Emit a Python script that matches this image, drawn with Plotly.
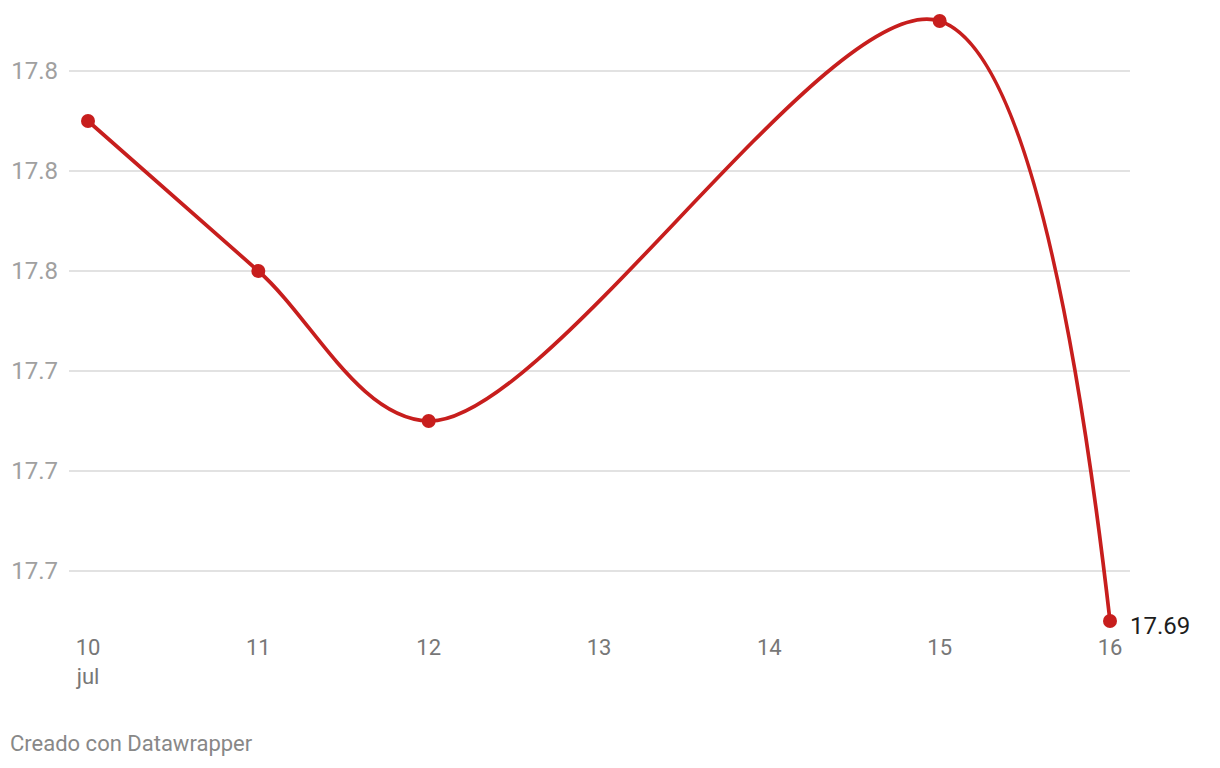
import plotly.graph_objects as go

days = [10, 11, 12, 15, 16]
values = [17.79, 17.76, 17.73, 17.81, 17.69]
tick_days = [10, 11, 12, 13, 14, 15, 16]
tick_day_labels = ["10<br>jul", "11", "12", "13", "14", "15", "16"]
y_ticks = [17.70, 17.72, 17.74, 17.76, 17.78, 17.80]
y_tick_labels = ["17.7", "17.7", "17.7", "17.8", "17.8", "17.8"]

RED = "#c71e1d"
W, H = 1220, 768
OFF = 8  # page offset of the figure
L, R, T, B = 69 - OFF, 90 + OFF, 10 - OFF, 138 + OFF
pw = W - L - R
ph = H - T - B
px_per_day = (1110 - 88) / 6.0
x0 = 10 - (88 - 69) / px_per_day
x1 = x0 + pw / px_per_day
px_per_val = 100 / 0.02
ytop = 17.80 + (71 - 10) / px_per_val
ybot = ytop - ph / px_per_val

fig = go.Figure()
fig.add_trace(go.Scatter(
    x=days, y=values, mode="lines+markers",
    line=dict(color=RED, width=3.7, shape="spline", smoothing=0.95),
    marker=dict(color=RED, size=14),
    cliponaxis=False, hoverinfo="skip",
))

fig.add_annotation(x=days[-1], y=values[-1], text=f"{values[-1]:.2f}",
                   xref="x", yref="y", xanchor="left", yanchor="middle",
                   xshift=18, yshift=-5, showarrow=False,
                   font=dict(family="Roboto", size=24, color="#1d1d1d"))
fig.add_annotation(x=(8 - 69) / pw, y=-(B - OFF - 10) / ph, xref="paper", yref="paper",
                   xanchor="left", yanchor="bottom",
                   text="Creado con Datawrapper", showarrow=False,
                   font=dict(family="Roboto", size=22, color="#888888"))

fig.update_layout(
    width=W, height=H,
    margin=dict(l=L, r=R, t=T, b=B),
    paper_bgcolor="white", plot_bgcolor="white",
    showlegend=False,
    font=dict(family="Roboto"),
    xaxis=dict(range=[x0, x1], tickvals=tick_days, ticktext=tick_day_labels,
               showgrid=False, zeroline=False, showline=False, ticks="",
               tickfont=dict(size=22, color="#777777"), ticklabelstandoff=2),
    yaxis=dict(range=[ybot, ytop], tickvals=y_ticks, ticktext=y_tick_labels,
               showgrid=True, gridcolor="#e2e2e2", gridwidth=1.5, zeroline=False,
               showline=False, ticks="", ticklabelstandoff=10,
               tickfont=dict(size=24, color="#a0a0a0")),
)
fig.write_html("out.html")
